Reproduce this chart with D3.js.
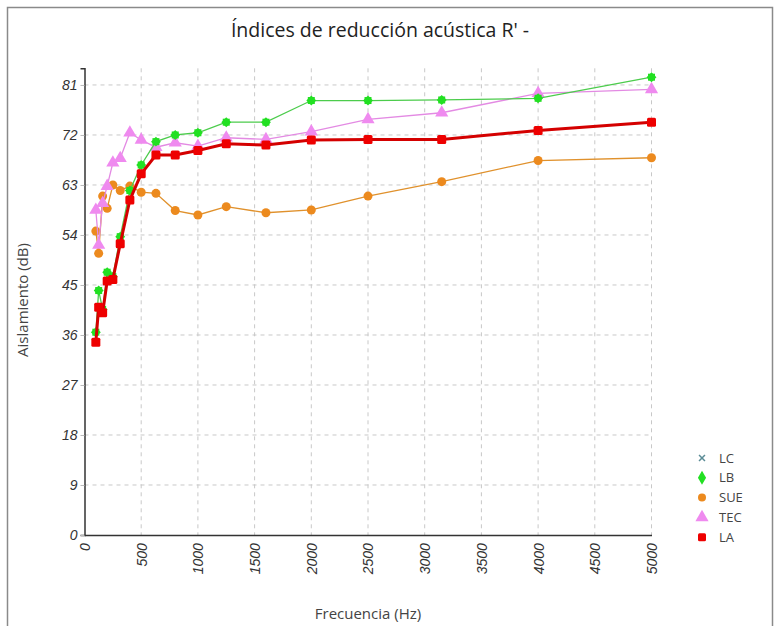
<!DOCTYPE html>
<html><head><meta charset="utf-8">
<script src="https://cdn.jsdelivr.net/npm/d3@7"></script>
<style>
html,body{margin:0;padding:0;background:#fff;}
svg{display:block;font-family:"Open Sans","Noto Sans",sans-serif;}
</style></head>
<body>
<svg id="c" width="775" height="626"></svg>
<script>
const freqs = [100,125,160,200,250,315,400,500,630,800,1000,1250,1600,2000,2500,3150,4000,5000];
const LC = [];
const LB = [36.5,44,40.6,47.3,46.5,53.7,62,66.6,70.8,72,72.4,74.3,74.3,78.2,78.2,78.3,78.6,82.4];
const SUE = [54.7,50.7,61,58.8,63,62,62.8,61.7,61.5,58.4,57.6,59.1,58,58.5,61,63.6,67.4,67.9];
const TEC = [58.5,52.2,59.7,62.8,67,67.8,72.4,71.1,69.8,70.6,70,71.5,71.2,72.6,74.8,76,79.5,80.2];
const LA = [34.7,41,40,45.7,46,52.4,60.3,65,68.4,68.4,69.2,70.4,70.2,71.1,71.2,71.2,72.8,74.3];
const xTicks = [0,500,1000,1500,2000,2500,3000,3500,4000,4500,5000];
const yTicks = [0,9,18,27,36,45,54,63,72,81];
const seriesNames = ["LC","LB","SUE","TEC","LA"];

const svg = d3.select("#c");
svg.append("rect").attr("x",7.5).attr("y",7.5).attr("width",765).attr("height",630)
  .attr("fill","none").attr("stroke","#8a8a8a").attr("stroke-width",1.5);

svg.append("text").attr("x",380).attr("y",37).attr("text-anchor","middle")
  .attr("font-size",19.5).attr("fill","#222").text("Índices de reducción acústica R' -");

const x = d3.scaleLinear().domain([0,5000]).range([84.5,651.5]);
const y = d3.scaleLinear().domain([0,84]).range([535,68.3]);

const g = svg.append("g");
g.selectAll(".vg").data(xTicks.slice(1)).join("line")
  .attr("x1",d=>x(d)).attr("x2",d=>x(d)).attr("y1",y(84)).attr("y2",y(0))
  .attr("stroke","#c8c8c8").attr("stroke-dasharray","4,4");
g.selectAll(".hg").data(yTicks.slice(1)).join("line")
  .attr("x1",x(0)).attr("x2",x(5000)).attr("y1",d=>y(d)).attr("y2",d=>y(d))
  .attr("stroke","#c8c8c8").attr("stroke-dasharray","4,4");

const ya = svg.append("g").attr("transform",`translate(${x(0)},0)`)
  .call(d3.axisLeft(y).tickValues(yTicks).tickSize(4).tickPadding(3));
ya.select(".domain").attr("stroke","#333").attr("stroke-width",1.5);
ya.selectAll(".tick line").attr("stroke","#bbb");
ya.selectAll("text").attr("font-size",14).attr("font-style","italic").attr("fill","#333");

const xa = svg.append("g").attr("transform",`translate(0,${y(0)})`)
  .call(d3.axisBottom(x).tickValues(xTicks).tickSize(0).tickFormat(d3.format("d")));
xa.select(".domain").attr("stroke","#333").attr("stroke-width",1.5);
xa.selectAll("text").attr("font-size",14).attr("font-style","italic").attr("fill","#333")
  .attr("text-anchor","end").attr("transform","rotate(-90)").attr("dy","0.35em").attr("dx","-0.3em").attr("y",0).attr("x",-4);

svg.append("text").attr("transform","translate(28,300) rotate(-90)").attr("text-anchor","middle")
  .attr("font-size",15).attr("fill","#444").text("Aislamiento (dB)");
svg.append("text").attr("x",368).attr("y",619).attr("text-anchor","middle")
  .attr("font-size",15).attr("fill","#444").text("Frecuencia (Hz)");

const line = d3.line().x(d=>x(d[0])).y(d=>y(d[1]));
function pts(vals){return vals.map((v,i)=>[freqs[i],v]);}

function drawMarker(sel, type, color, size){
  if(type==="circle"){sel.append("circle").attr("r",size/2).attr("fill",color);}
  else if(type==="square"){sel.append("rect").attr("x",-size/2).attr("y",-size/2).attr("width",size).attr("height",size).attr("rx",1.5).attr("fill",color);}
  else if(type==="star"){
    sel.append("rect").attr("x",-size/2).attr("y",-size/2).attr("width",size).attr("height",size).attr("fill",color);
    sel.append("rect").attr("x",-size/2).attr("y",-size/2).attr("width",size).attr("height",size).attr("fill",color).attr("transform","rotate(45)");
  }
  else if(type==="diamond"){sel.append("path").attr("d",d3.symbol(d3.symbolDiamond,size*size*0.9)()).attr("fill",color);}
  else if(type==="triangle"){sel.append("path").attr("d",d3.symbol(d3.symbolTriangle,size*size*0.75)()).attr("fill",color);}
  else if(type==="x"){sel.append("path").attr("d",d3.symbol(d3.symbolX,size*size*0.5)()).attr("stroke",color).attr("stroke-width",1.5).attr("fill","none");}
}

const series = [
  {name:"SUE",vals:SUE,color:"#ec8a1e",line:"#e0912c",w:1.3,m:"circle",s:9},
  {name:"TEC",vals:TEC,color:"#ef8aef",line:"#e38ae3",w:1.3,m:"triangle",s:10},
  {name:"LB",vals:LB,color:"#22e022",line:"#4ccc4c",w:1.3,m:"star",s:7},
  {name:"LA",vals:LA,color:"#ee0000",line:"#d40000",w:3,m:"square",s:9},
];
series.forEach(s=>{
  const p = pts(s.vals);
  svg.append("path").datum(p).attr("d",line).attr("fill","none").attr("stroke",s.line).attr("stroke-width",s.w);
  svg.append("g").selectAll("g").data(p).join("g")
    .attr("transform",d=>`translate(${x(d[0])},${y(d[1])})`)
    .each(function(){drawMarker(d3.select(this),s.m,s.color,s.s);});
});

const legendMarkers = {LC:["x","#5b8c96",7],LB:["diamond","#22e022",8],SUE:["circle","#ec8a1e",8],TEC:["triangle","#ef8aef",10],LA:["square","#ee0000",8]};
const lg = svg.append("g");
seriesNames.forEach((n,i)=>{
  const yy = 458 + i*19.8;
  const gg = lg.append("g").attr("transform",`translate(702,${yy})`);
  drawMarker(gg, legendMarkers[n][0], legendMarkers[n][1], legendMarkers[n][2]);
  lg.append("text").attr("x",719).attr("y",yy).attr("dy","0.35em").attr("font-size",13).attr("fill","#444").text(n);
});
</script>
</body></html>
